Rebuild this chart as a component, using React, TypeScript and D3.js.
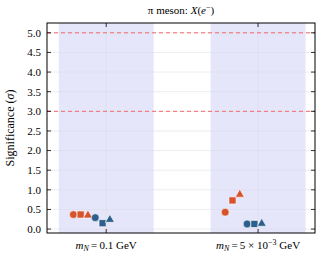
import * as d3 from "d3";
import { useEffect, useRef } from "react";

const categories = ["0.1", "5e-3"];
const shapes = ["circle", "square", "triangle"];
// significance per category, order: circle, square, triangle
const redValues = [
  [0.37, 0.37, 0.35],
  [0.43, 0.73, 0.88],
];
const blueValues = [
  [0.29, 0.15, 0.24],
  [0.13, 0.13, 0.14],
];
const yTicks = [0, 0.5, 1, 1.5, 2, 2.5, 3, 3.5, 4, 4.5, 5];
const thresholds = [3, 5];

const RED = "#d6532e";
const BLUE = "#2e5f8c";
const W = 321;
const H = 257;

export default function App() {
  const ref = useRef<SVGSVGElement>(null);

  useEffect(() => {
    if (!ref.current) return;
    const svg = d3.select(ref.current);
    svg.selectAll("*").remove();

    const m = { left: 47, right: 6, top: 23, bottom: 24 };
    const x = d3.scaleLinear().domain([-0.39, 1.375]).range([m.left, W - m.right]);
    const y = d3.scaleLinear().domain([-0.1, 5.25]).range([H - m.bottom, m.top]);
    const font = "'Liberation Serif', 'DejaVu Serif', serif";

    // shaded bands
    svg
      .selectAll(".band")
      .data(categories)
      .join("rect")
      .attr("x", (_, i) => x(i - 0.3125))
      .attr("width", x(0.3125) - x(-0.3125))
      .attr("y", m.top)
      .attr("height", H - m.bottom - m.top)
      .attr("fill", "#e6e6fb");

    // grid
    svg
      .selectAll(".hgrid")
      .data(yTicks)
      .join("line")
      .attr("x1", m.left)
      .attr("x2", W - m.right)
      .attr("y1", (d) => y(d))
      .attr("y2", (d) => y(d))
      .attr("stroke", "#d8d8e4")
      .attr("stroke-width", 0.5);
    svg
      .selectAll(".vgrid")
      .data(categories)
      .join("line")
      .attr("x1", (_, i) => x(i))
      .attr("x2", (_, i) => x(i))
      .attr("y1", m.top)
      .attr("y2", H - m.bottom)
      .attr("stroke", "#d8d8e4")
      .attr("stroke-width", 0.5);

    // threshold lines
    svg
      .selectAll(".thr")
      .data(thresholds)
      .join("line")
      .attr("x1", m.left)
      .attr("x2", W - m.right)
      .attr("y1", (d) => y(d))
      .attr("y2", (d) => y(d))
      .attr("stroke", "#f06a6a")
      .attr("stroke-width", 1)
      .attr("stroke-dasharray", "4,3");

    // markers
    const step = 7.3;
    const sym = (s: string) =>
      s === "circle"
        ? d3.symbol(d3.symbolCircle, 48)()
        : s === "square"
        ? d3.symbol(d3.symbolSquare, 50)()
        : d3.symbol(d3.symbolTriangle, 36)();
    const pts: { cx: number; cy: number; s: string; c: string }[] = [];
    categories.forEach((_, ci) => {
      redValues[ci].forEach((v, k) =>
        pts.push({ cx: x(ci) + (k - 4.5) * step, cy: y(v), s: shapes[k], c: RED })
      );
      blueValues[ci].forEach((v, k) =>
        pts.push({ cx: x(ci) + (k - 1.5) * step, cy: y(v), s: shapes[k], c: BLUE })
      );
    });
    svg
      .selectAll(".pt")
      .data(pts)
      .join("path")
      .attr("d", (d) => sym(d.s))
      .attr("transform", (d) => `translate(${d.cx},${d.cy})`)
      .attr("fill", (d) => d.c)
      .attr("stroke", "#fff")
      .attr("stroke-width", 0.6);

    // frame
    svg
      .append("rect")
      .attr("x", m.left)
      .attr("y", m.top)
      .attr("width", W - m.left - m.right)
      .attr("height", H - m.top - m.bottom)
      .attr("fill", "none")
      .attr("stroke", "#000")
      .attr("stroke-width", 1);

    // ticks
    const tl = 4;
    yTicks.forEach((t) => {
      svg.append("line").attr("x1", m.left).attr("x2", m.left + tl).attr("y1", y(t)).attr("y2", y(t)).attr("stroke", "#000").attr("stroke-width", 0.8);
      svg.append("line").attr("x1", W - m.right).attr("x2", W - m.right - tl).attr("y1", y(t)).attr("y2", y(t)).attr("stroke", "#000").attr("stroke-width", 0.8);
      svg
        .append("text")
        .attr("x", m.left - 6)
        .attr("y", y(t))
        .attr("dy", "0.35em")
        .attr("text-anchor", "end")
        .attr("font-family", font)
        .attr("font-size", 11)
        .text(t.toFixed(1));
    });
    categories.forEach((_, i) => {
      svg.append("line").attr("x1", x(i)).attr("x2", x(i)).attr("y1", H - m.bottom).attr("y2", H - m.bottom - tl).attr("stroke", "#000").attr("stroke-width", 0.8);
      svg.append("line").attr("x1", x(i)).attr("x2", x(i)).attr("y1", m.top).attr("y2", m.top + tl).attr("stroke", "#000").attr("stroke-width", 0.8);
    });

    // x labels
    const lab0 = svg
      .append("text")
      .attr("x", x(0))
      .attr("y", H - 8)
      .attr("text-anchor", "middle")
      .attr("font-family", font)
      .attr("font-size", 11);
    lab0.append("tspan").attr("font-style", "italic").text("m");
    lab0.append("tspan").attr("font-style", "italic").attr("font-size", 8).attr("dy", 2).text("N");
    lab0.append("tspan").attr("dy", -2).text("\u2009=\u20090.1 GeV");

    const lab1 = svg
      .append("text")
      .attr("x", x(1))
      .attr("y", H - 8)
      .attr("text-anchor", "middle")
      .attr("font-family", font)
      .attr("font-size", 11);
    lab1.append("tspan").attr("font-style", "italic").text("m");
    lab1.append("tspan").attr("font-style", "italic").attr("font-size", 8).attr("dy", 2).text("N");
    lab1.append("tspan").attr("dy", -2).text("\u2009=\u20095 \u00d7 10");
    lab1.append("tspan").attr("font-size", 8).attr("dy", -4).text("\u22123");
    lab1.append("tspan").attr("dy", 4).text(" GeV");

    // title
    const title = svg
      .append("text")
      .attr("x", (m.left + W - m.right) / 2)
      .attr("y", 14)
      .attr("text-anchor", "middle")
      .attr("font-family", font)
      .attr("font-size", 11);
    title.append("tspan").text("\u03c0 meson: ");
    title.append("tspan").attr("font-style", "italic").text("X");
    title.append("tspan").text("(");
    title.append("tspan").attr("font-style", "italic").text("e");
    title.append("tspan").attr("font-size", 8).attr("dy", -4).text("\u2212");
    title.append("tspan").attr("dy", 4).text(")");

    // y label
    const yl = svg
      .append("text")
      .attr("transform", `translate(14,${(m.top + H - m.bottom) / 2}) rotate(-90)`)
      .attr("text-anchor", "middle")
      .attr("font-family", font)
      .attr("font-size", 12);
    yl.append("tspan").text("Significance (");
    yl.append("tspan").attr("font-style", "italic").text("\u03c3");
    yl.append("tspan").text(")");
  }, []);

  return (
    <svg
      ref={ref}
      width={W}
      height={H}
      style={{ position: "absolute", left: 0, top: 0, background: "#fff" }}
    />
  );
}
